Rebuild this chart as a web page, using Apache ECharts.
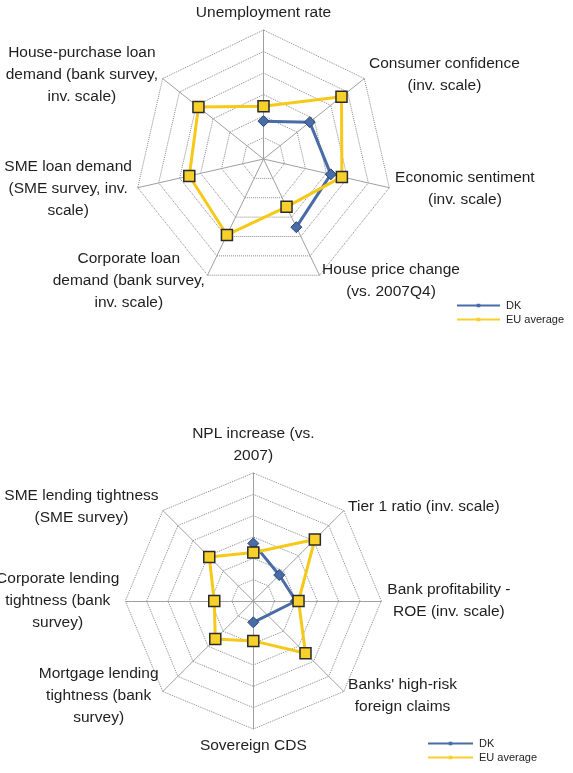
<!DOCTYPE html>
<html>
<head>
<meta charset="utf-8">
<script src="https://cdn.jsdelivr.net/npm/echarts@6/dist/echarts.min.js"></script>
<style>
  html, body { margin: 0; padding: 0; background: #ffffff; }
  #chart { width: 573px; height: 773px; }
</style>
</head>
<body>
<div id="chart"></div>
<script>
// ---- Data (clockwise from the top axis) ----
const topCategories = [
  'Unemployment rate',
  'Consumer confidence\n(inv. scale)',
  'Economic sentiment\n(inv. scale)',
  'House price change\n(vs. 2007Q4)',
  'Corporate loan\ndemand (bank survey,\ninv. scale)',
  'SME loan demand\n(SME survey, inv.\nscale)',
  'House-purchase loan\ndemand (bank survey,\ninv. scale)'
];
const topDK = [1.76, 2.75, 3.21, 3.52, null, null, null];
const topEU = [2.45, 4.64, 3.74, 2.47, 3.92, 3.54, 3.87];

const bottomCategories = [
  'NPL increase (vs.\n2007)',
  'Tier 1 ratio (inv. scale)',
  'Bank profitability -\nROE (inv. scale)',
  "Banks' high-risk\nforeign claims",
  'Sovereign CDS',
  'Mortgage lending\ntightness (bank\nsurvey)',
  'Corporate lending\ntightness (bank\nsurvey)',
  'SME lending tightness\n(SME survey)'
];
const bottomDK = [2.7, 1.72, 2.0, null, 1.0, null, null, null];
const bottomEU = [2.27, 4.08, 2.12, 3.46, 1.87, 2.52, 1.83, 2.92];

const seriesNames = ['DK', 'EU average'];
const scaleMax = 6;
const rings = 6;

// ---- Styling ----
const FONT = '"Liberation Sans", Arial, sans-serif';
const DK_COLOR = '#4a6ca6';
const EU_COLOR = '#f6c918';
// legend icon: thin line with a small dot in the middle (w = box width, line drawn to w-1)
function legendIconPath(w) {
  const l = w - 1, m = l / 2;
  return 'path://M0,0h0.1v0.1h-0.1Z M0,4.1H' + l + 'V5.9H0Z M' + (m - 1.8) + ',3.2H' + (m + 1.8) + 'V6.8H' + (m - 1.8) + 'Z M' + (w - 0.1) + ',9.9h0.1v0.1h-0.1Z';
}

// radar lays indicators out counter-clockwise: reorder clockwise lists
const ccw = arr => arr.map((_, i) => arr[(arr.length - i) % arr.length]);

const nameFormatter = name => name.split('\n').map(l => '{c|' + l + '}').join('\n');

function radarCfg(center, radius, cats) {
  return {
    center: center,
    radius: radius,
    startAngle: 90,
    shape: 'polygon',
    splitNumber: rings,
    indicator: ccw(cats).map(n => ({ name: n, min: 0, max: scaleMax })),
    axisNameGap: 6,
    axisName: {
      formatter: nameFormatter,
      rich: { c: { fontFamily: FONT, fontSize: 15.5, lineHeight: 22, color: '#1e1e1e', align: 'center' } }
    },
    splitLine: { lineStyle: { color: '#8a8a8a', type: 'dotted', width: 1 } },
    splitArea: { show: false },
    axisLine: { lineStyle: { color: '#a0a0a0', width: 1 } },
    axisTick: { show: false },
    axisLabel: { show: false }
  };
}

function dkSeries(polarIndex, values) {
  return {
    type: 'line', name: seriesNames[0], coordinateSystem: 'polar', polarIndex: polarIndex,
    data: values, connectNulls: true, symbol: 'diamond', symbolSize: 11,
    lineStyle: { color: DK_COLOR, width: 3 },
    itemStyle: { color: DK_COLOR, borderColor: '#2c4677', borderWidth: 1 },
    z: 2, silent: true, animation: false
  };
}
function euSeries(radarIndex, values) {
  return {
    type: 'radar', name: seriesNames[1], radarIndex: radarIndex,
    data: [{ name: seriesNames[1], value: ccw(values) }],
    symbol: 'rect', symbolSize: 11,
    lineStyle: { color: EU_COLOR, width: 3 },
    itemStyle: { color: '#f8d02c', borderColor: '#2a2a2a', borderWidth: 1.5 },
    z: 3, silent: true, animation: false
  };
}
function legendCfg(left, top, w) {
  return {
    orient: 'vertical', left: left, top: top, padding: 0,
    itemWidth: w, itemHeight: 10, itemGap: 3,
    selectedMode: false,
    data: seriesNames.map(n => ({ name: n, icon: legendIconPath(w) })),
    itemStyle: { borderWidth: 0 },
    textStyle: { fontFamily: FONT, fontSize: 11, color: '#222' }
  };
}

const chart = echarts.init(document.getElementById('chart'), null, { renderer: 'canvas' });
chart.setOption({
  animation: false,
  backgroundColor: '#ffffff',
  radar: [
    radarCfg([263.5, 159], 129, topCategories),
    radarCfg([253.3, 601], 128, bottomCategories)
  ],
  polar: [
    { center: [263.5, 159], radius: 129 },
    { center: [253.3, 601], radius: 128 }
  ],
  angleAxis: [
    { polarIndex: 0, type: 'category', data: topCategories, boundaryGap: false, startAngle: 90, clockwise: true, show: false },
    { polarIndex: 1, type: 'category', data: bottomCategories, boundaryGap: false, startAngle: 90, clockwise: true, show: false }
  ],
  radiusAxis: [
    { polarIndex: 0, min: 0, max: scaleMax, show: false },
    { polarIndex: 1, min: 0, max: scaleMax, show: false }
  ],
  legend: [legendCfg(457, 300, 44), legendCfg(428, 738, 46)],
  series: [
    dkSeries(0, topDK),
    euSeries(0, topEU),
    dkSeries(1, bottomDK),
    euSeries(1, bottomEU)
  ]
});
</script>
</body>
</html>
